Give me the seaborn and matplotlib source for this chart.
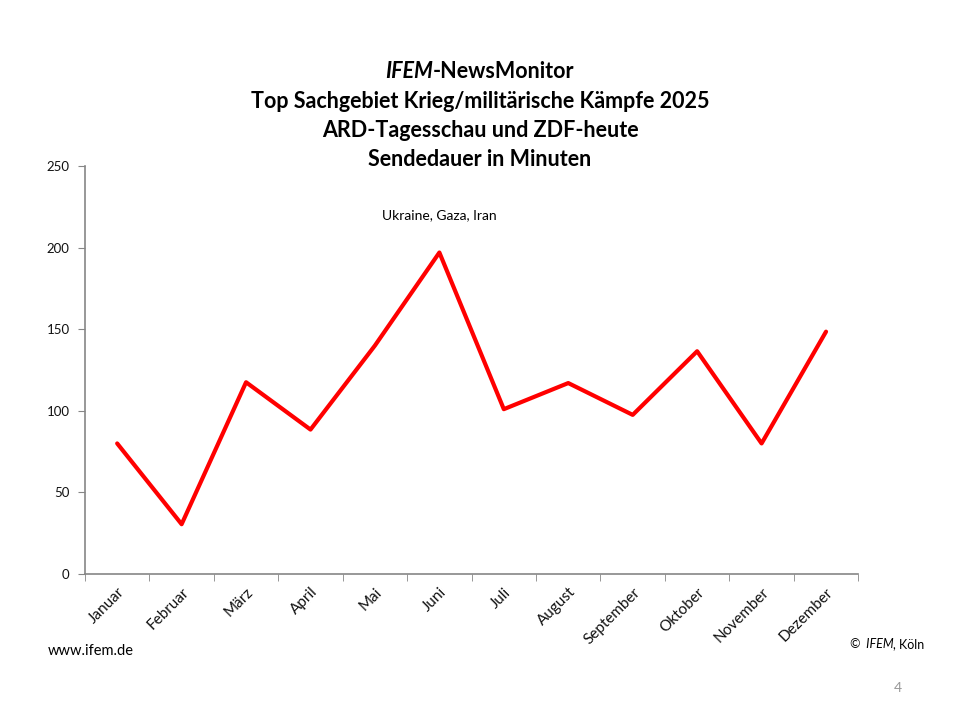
import pandas as pd
import matplotlib.pyplot as plt
import seaborn as sns

# Daten: Sendedauer in Minuten pro Monat
monate = ['Januar', 'Februar', 'März', 'April', 'Mai', 'Juni', 'Juli',
          'August', 'September', 'Oktober', 'November', 'Dezember']
minuten = [80, 30.5, 117.5, 88.5, 140, 197, 101, 117, 97.5, 136.5, 80, 148.5]
y_ticks = [0, 50, 100, 150, 200, 250]
notiz = 'Ukraine, Gaza, Iran'

df = pd.DataFrame({'Monat': monate, 'Minuten': minuten})

sns.set_style('white')
plt.rcParams['font.family'] = ['Lato', 'DejaVu Sans']
plt.rcParams['text.color'] = 'black'

fig = plt.figure(figsize=(9.6, 7.2), dpi=100)
ax = fig.add_axes([0.0885, 0.2028, 0.8055, 0.5666])

sns.lineplot(data=df, x='Monat', y='Minuten', color='#ff0000', linewidth=3.0, ax=ax, sort=False)

grau = '#868686'
ax.set_xlim(-0.5, len(monate) - 0.5)
ax.set_ylim(0, 250)
ax.set_yticks(y_ticks)
ax.set_yticklabels([str(v) for v in y_ticks], fontsize=9.5, color='#111111')
ax.set_xticks(range(len(monate)))
ax.set_xticklabels(monate, rotation=45, ha='right', rotation_mode='anchor',
                   fontsize=11, color='#111111')
ax.set_xticks([i - 0.5 for i in range(len(monate) + 1)], minor=True)
ax.tick_params(axis='x', which='major', length=0, pad=8)
ax.tick_params(axis='x', which='minor', length=5, color=grau, direction='out', bottom=True)
ax.tick_params(axis='y', length=5, color=grau, direction='out', left=True, pad=6)
ax.set_xlabel('')
ax.set_ylabel('')
for s in ['top', 'right']:
    ax.spines[s].set_visible(False)
for s in ['left', 'bottom']:
    ax.spines[s].set_color(grau)
    ax.spines[s].set_linewidth(1.2)

ax.text(5, 220, notiz, ha='center', va='center', fontsize=10)

# Titel
fig.canvas.draw()
r = fig.canvas.get_renderer()
t1 = fig.text(0, 0.9, 'IFEM', fontsize=15.5, fontweight='bold', fontstyle='italic', va='center')
t2 = fig.text(0, 0.9, '-NewsMonitor', fontsize=15.5, fontweight='bold', va='center')
w1 = t1.get_window_extent(r).width / fig.bbox.width
w2 = t2.get_window_extent(r).width / fig.bbox.width
x0 = 0.5 - (w1 + w2) / 2
t1.set_x(x0)
t2.set_x(x0 + w1)
titel = ['Top Sachgebiet Krieg/militärische Kämpfe 2025',
         'ARD-Tagesschau und ZDF-heute',
         'Sendedauer in Minuten']
for i, zeile in enumerate(titel):
    fig.text(0.5, 0.9 - (i + 1) * 0.0403, zeile, ha='center', va='center',
             fontsize=15.5, fontweight='bold')

fig.text(0.05, 0.096, 'www.ifem.de', fontsize=10.5, va='center')
k1 = fig.text(0, 0.105, '©  IFEM', fontsize=9, fontstyle='italic', va='center')
k2 = fig.text(0, 0.105, ', Köln', fontsize=9, va='center')
v1 = k1.get_window_extent(r).width / fig.bbox.width
v2 = k2.get_window_extent(r).width / fig.bbox.width
k2.set_x(0.963 - v2)
k1.set_x(0.963 - v2 - v1)
fig.text(0.935, 0.045, '4', fontsize=10, color='#999999', va='center', ha='center')

fig.savefig('out.png', dpi=100)
